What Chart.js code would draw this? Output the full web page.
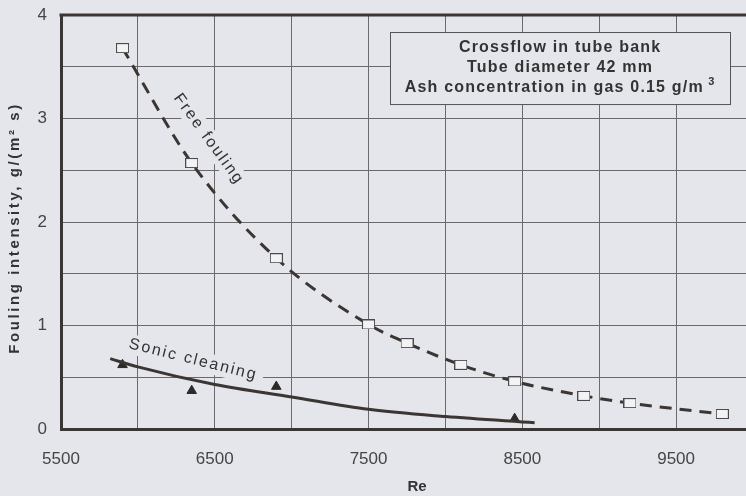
<!DOCTYPE html>
<html>
<head>
<meta charset="utf-8">
<script src="https://cdn.jsdelivr.net/npm/chart.js@4.4.1/dist/chart.umd.min.js"></script>
<style>
  html, body { margin: 0; padding: 0; overflow: hidden; background: #e5e5ec; }
  #wrap { width: 780px; height: 496px; }
</style>
</head>
<body>
<div id="wrap"><canvas id="myChart" width="780" height="496"></canvas></div>
<script>
// Data
const reFree = [5900, 6350, 6900, 7500, 7750, 8100, 8450, 8900, 9200, 9800];
const freeFouling = [3.68, 2.57, 1.65, 1.01, 0.83, 0.62, 0.46, 0.32, 0.25, 0.145];
const reSonic = [5900, 6350, 6900, 8450];
const sonicCleaning = [0.62, 0.37, 0.41, 0.10];
const reSonicFit = [5820, 6000, 6500, 7000, 7500, 8000, 8580];
const sonicFit = [0.68, 0.60, 0.43, 0.31, 0.19, 0.12, 0.06];
const xTickLabels = [5500, 6500, 7500, 8500, 9500];
const yTickLabels = [0, 1, 2, 3, 4];
const boxLines = ["Crossflow in tube bank", "Tube diameter 42 mm", "Ash concentration in gas 0.15 g/m"];
const yTitle = "Fouling intensity, g/(m\u00b2 s)";

const ink = "#3b3632";
const textCol = "#454545";
const bg = "#e5e5ec";
const family = "'Liberation Sans', Arial, sans-serif";

// small open rectangle used as marker for free fouling
const squareMark = document.createElement("canvas");
squareMark.width = 13;
squareMark.height = 10;
(() => {
  const c = squareMark.getContext("2d");
  c.fillStyle = "#f3f3f6";
  c.strokeStyle = "#4a4a4a";
  c.lineWidth = 1;
  c.fillRect(0.5, 0.5, 12, 9);
  c.strokeRect(0.5, 0.5, 12, 9);
})();

const toPts = (xs, ys) => xs.map((x, i) => ({ x: x, y: ys[i] }));

// annotations: box with conditions, curve labels, y title, top frame line
const notes = {
  id: "notes",
  beforeDatasetsDraw(chart) {
    const { ctx, chartArea, scales: { x, y } } = chart;
    ctx.save();
    // condition box
    const bx0 = x.getPixelForValue(7640), bx1 = x.getPixelForValue(9851);
    const by0 = y.getPixelForValue(3.836), by1 = y.getPixelForValue(3.14);
    ctx.fillStyle = bg;
    ctx.fillRect(bx0, by0, bx1 - bx0, by1 - by0);
    ctx.strokeStyle = "#555";
    ctx.lineWidth = 1;
    ctx.strokeRect(Math.round(bx0) + 0.5, Math.round(by0) + 0.5, bx1 - bx0, by1 - by0);
    ctx.fillStyle = "#333";
    ctx.font = "bold 16px " + family;
    ctx.letterSpacing = "1.2px";
    ctx.textBaseline = "middle";
    const cx = (bx0 + bx1) / 2, cy = (by0 + by1) / 2;
    boxLines.forEach((t, i) => {
      const ly = cy + (i - 1) * 20;
      if (i === 2) {
        const w = ctx.measureText(t).width;
        ctx.font = "bold 11px " + family;
        const w3 = ctx.measureText(" 3").width;
        const start = cx - (w + w3) / 2;
        ctx.textAlign = "left";
        ctx.fillText(" 3", start + w, ly - 6);
        ctx.font = "bold 16px " + family;
        ctx.fillText(t, start, ly);
      } else {
        ctx.textAlign = "center";
        ctx.fillText(t, cx, ly);
      }
    });

    // curve labels
    const label = (txt, re, val, ang) => {
      ctx.save();
      ctx.translate(x.getPixelForValue(re), y.getPixelForValue(val));
      ctx.rotate(ang * Math.PI / 180);
      ctx.font = "16px " + family;
      ctx.letterSpacing = "2px";
      const w = ctx.measureText(txt).width;
      ctx.fillStyle = bg;
      ctx.fillRect(-w / 2 - 6, -10, w + 12, 20);
      ctx.fillStyle = "#333";
      ctx.textAlign = "center";
      ctx.textBaseline = "middle";
      ctx.fillText(txt, 0, 0);
      ctx.restore();
    };
    label("Free fouling", 6460, 2.8, 54);
    label("Sonic cleaning", 6360, 0.67, 14);

    // y axis title with the wide letter spacing of the original
    ctx.save();
    ctx.translate(15, (chartArea.top + chartArea.bottom) / 2 + 6);
    ctx.rotate(-Math.PI / 2);
    ctx.font = "bold 15px " + family;
    ctx.letterSpacing = "2.6px";
    ctx.fillStyle = "#333";
    ctx.textAlign = "center";
    ctx.textBaseline = "middle";
    ctx.fillText(yTitle, 0, 0);
    ctx.restore();
    ctx.restore();
  },
  afterDraw(chart) {
    const { ctx, chartArea } = chart;
    ctx.save();
    ctx.strokeStyle = ink;
    ctx.lineWidth = 3;
    ctx.beginPath();
    ctx.moveTo(chartArea.left - 1.5, chartArea.top);
    ctx.lineTo(chartArea.right, chartArea.top);
    ctx.stroke();
    ctx.restore();
  }
};

const gridX = [];
for (let v = 5500; v <= 10000; v += 500) gridX.push(v);
const gridY = [];
for (let v = 0; v <= 4; v += 0.5) gridY.push(v);

const data = {
  datasets: [
    {
      label: "Free fouling",
      data: toPts(reFree, freeFouling),
      showLine: true,
      borderColor: ink,
      borderWidth: 3,
      borderDash: [12, 8],
      cubicInterpolationMode: "monotone",
      pointStyle: squareMark,
    },
    {
      label: "Sonic cleaning fit",
      data: toPts(reSonicFit, sonicFit),
      showLine: true,
      borderColor: ink,
      borderWidth: 3,
      cubicInterpolationMode: "monotone",
      pointRadius: 0,
    },
    {
      label: "Sonic cleaning",
      data: toPts(reSonic, sonicCleaning),
      showLine: false,
      pointStyle: "triangle",
      pointRadius: 5.5,
      backgroundColor: "#2a2a2a",
      borderColor: "#2a2a2a",
      borderWidth: 1,
    },
  ],
};

const config = {
  type: "scatter",
  data: data,
  options: {
    responsive: false,
    animation: false,
    devicePixelRatio: 1,
    layout: { padding: { top: 15, right: 0, left: 0, bottom: 0 } },
    plugins: { legend: { display: false }, tooltip: { enabled: false } },
    scales: {
      x: {
        type: "linear",
        min: 5500,
        max: 10130,
        afterBuildTicks: (axis) => { axis.ticks = gridX.map(v => ({ value: v })); },
        afterFit: (axis) => { axis.height = 67; axis.paddingRight = 0; },
        ticks: {
          padding: 20,
          maxRotation: 0,
          autoSkip: false,
          color: textCol,
          font: { family: family, size: 17 },
          callback: (v) => (xTickLabels.includes(v) ? String(v) : ""),
        },
        grid: { color: "#6a6a6a", lineWidth: 1, drawTicks: false },
        border: { display: true, color: ink, width: 3 },
        title: {
          display: true,
          text: "Re",
          color: "#333",
          font: { family: family, size: 15, weight: "bold" },
          padding: { top: 0, bottom: 0 },
        },
      },
      y: {
        min: 0,
        max: 4,
        afterBuildTicks: (axis) => { axis.ticks = gridY.map(v => ({ value: v })); },
        afterFit: (axis) => { axis.width = 61; axis.paddingTop = 0; axis.paddingBottom = 0; },
        ticks: {
          padding: 14,
          color: textCol,
          font: { family: family, size: 17 },
          callback: (v) => (yTickLabels.includes(v) ? String(v) : ""),
        },
        grid: { color: "#6a6a6a", lineWidth: 1, drawTicks: false },
        border: { display: true, color: ink, width: 3 },
      },
    },
  },
  plugins: [notes],
};

new Chart(document.getElementById("myChart").getContext("2d"), config);
</script>
</body>
</html>
